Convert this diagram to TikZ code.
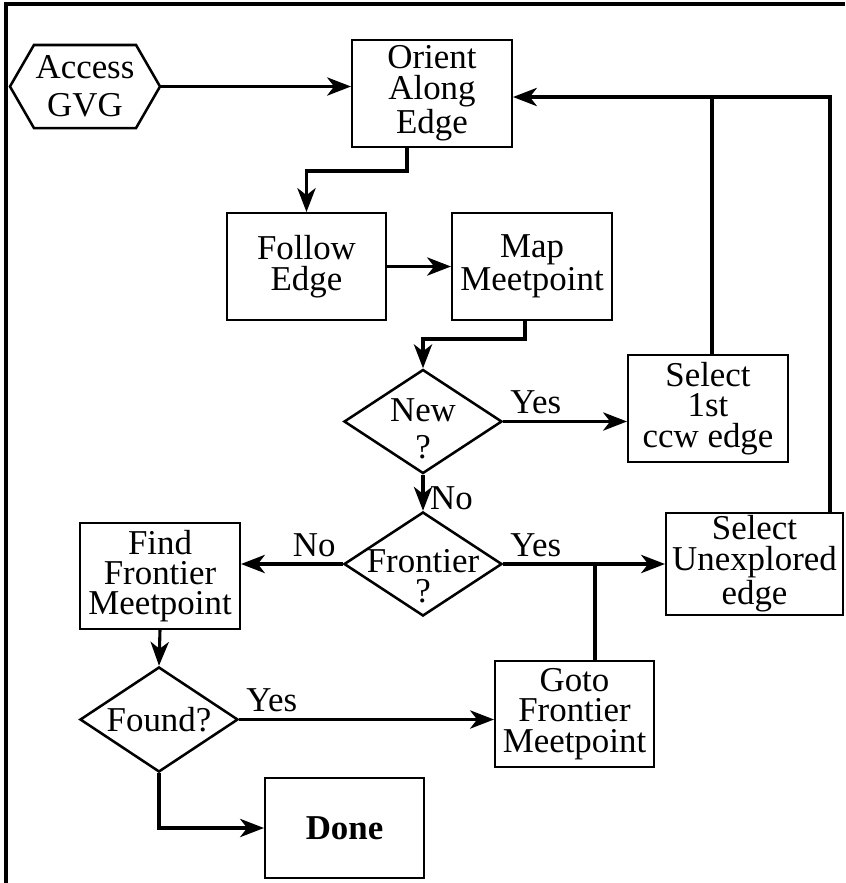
\documentclass[tikz,border=0pt]{standalone}
\usepackage{fontspec}
\setmainfont{Liberation Serif}
\usetikzlibrary{shapes.geometric,shapes.symbols,arrows.meta}

\begin{document}
\begin{tikzpicture}[x=0.0125cm,y=-0.0125cm,
    font=\fontsize{12.4}{10.8}\selectfont,
    >={Stealth[length=8.5pt,width=6.5pt,inset=2.5pt]},
    bloc/.style={draw,line width=0.7pt,align=center,inner sep=0pt,minimum width=2cm,minimum height=1.3375cm},
    test/.style={draw,diamond,line width=0.9pt,inner sep=0pt,minimum width=1.975cm,minimum height=1.3cm},
    fleche/.style={->,line width=1.1pt},
    lien/.style={line width=1.1pt}]
  \useasboundingbox (0,0) rectangle (845,883);
  \draw[line width=1.1pt] (6,883) -- (6,4) -- (845,4);
  % boites
  \node[draw,signal,signal to=west and east,signal pointer angle=120,line width=0.9pt,align=center,inner sep=0pt,
    minimum width=1.875cm,minimum height=1.0375cm,font=\fontsize{12.4}{13.4}\selectfont] (acc) at (85,86.5) {Access\\GVG};
  \node[bloc] (ori) at (432,93.5) {Orient\\Along\\Edge};
  \node[bloc,minimum width=1.9875cm] (fol) at (306.5,266.5) {Follow\\Edge};
  \node[bloc] (map) at (532,266.5) {Map\\Meetpoint};
  \node[bloc] (sel) at (708,408.5) {Select\\1st\\ccw edge};
  \node[bloc,minimum width=2.2125cm,minimum height=1.275cm] (sun) at (754.5,564) {Select\\Unexplored\\edge};
  \node[bloc,minimum height=1.325cm] (fin) at (160,576) {Find\\Frontier\\Meetpoint};
  \node[bloc,minimum width=1.9875cm,minimum height=1.325cm] (got) at (574.5,714) {Goto\\Frontier\\Meetpoint};
  \node[bloc,minimum width=1.9875cm,minimum height=1.25cm] (don) at (344.5,828) {\bfseries Done};
  % tests
  \node[test,label={[align=center,font=\fontsize{12.4}{13.2}\selectfont,yshift=-0.09cm]center:New\\?}] (new) at (423,421.5) {};
  \node[test,label={[align=center,yshift=-0.15cm]center:Frontier\\?}] (fro) at (423,564) {};
  \node[test,minimum height=1.3125cm,label=center:Found?] (fnd) at (159,719.5) {};
  % liens
  \coordinate (o1) at (407,171);
  \coordinate (m1) at (525,339);
  \coordinate (g1) at (595,564);
  \coordinate (bk) at (830,97);
  \coordinate (bl) at (712,97);
  \draw[fleche] (acc.east) -- (acc.east -| ori.west);
  \draw[fleche] (ori.south -| o1) -- (o1) -| (fol.north);
  \draw[fleche] (fol.east) -- (fol.east -| map.west);
  \draw[fleche] (map.south -| m1) -- (m1) -| (new.north);
  \draw[fleche] (new.east) node[anchor=south west,inner sep=2pt] {Yes} -- (new.east -| sel.west);
  \draw[fleche] (new.south) -- node[right,pos=0.65,inner sep=2pt] {No} (fro.north);
  \draw[fleche] (fro.east) node[anchor=south west,inner sep=2pt] {Yes} -- (fro.east -| sun.west);
  \draw[lien] (got.north -| g1) -- (g1);
  \draw[fleche] (fro.west) node[anchor=south east,inner sep=2pt] {No} -- (fro.west -| fin.east);
  \draw[fleche] (fin.south) -- (fnd.north);
  \draw[fleche] (fnd.east) node[anchor=south west,inner sep=2pt] {Yes} -- (fnd.east -| got.west);
  \draw[fleche] (fnd.south) |- (don.west);
  \draw[fleche] (sun.north -| bk) -- (bk) -- (bk -| ori.east);
  \draw[lien] (sel.north -| bl) -- (bl);
\end{tikzpicture}
\end{document}
